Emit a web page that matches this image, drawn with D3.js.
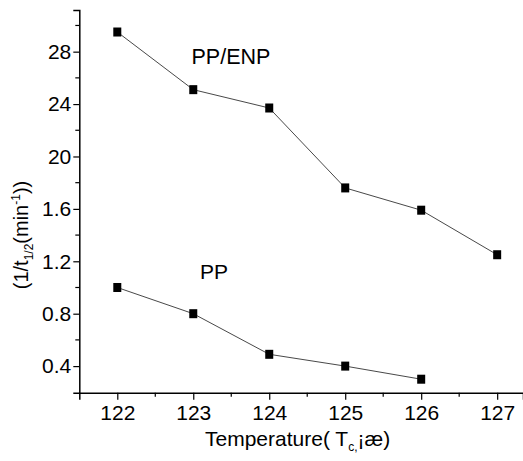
<!DOCTYPE html>
<html>
<head>
<meta charset="utf-8">
<script src="https://d3js.org/d3.v7.min.js"></script>
<style>
  body { margin: 0; background: #fff; }
  svg text { font-family: "Liberation Sans", Arial, sans-serif; fill: #000; }
</style>
</head>
<body>
<svg id="chart" width="523" height="461"></svg>
<script>
// data
const temps = [122, 123, 124, 125, 126, 127];
const ppEnp = [2.95, 2.51, 2.37, 1.76, 1.59, 1.25];
const ppTemps = [122, 123, 124, 125, 126];
const pp = [1.0, 0.8, 0.49, 0.4, 0.3];

const yTicks = [2.8, 2.4, 2.0, 1.6, 1.2, 0.8, 0.4];
const yTickLabels = ["28", "24", "20", "1.6", "1.2", "0.8", "0.4"];
const yMinor = [3.0, 2.6, 2.2, 1.8, 1.4, 1.0, 0.6];
const xMinor = [122.5, 123.5, 124.5, 125.5, 126.5];

const svg = d3.select("#chart");

// scales
const x = d3.scaleLinear().domain([121.5, 127.34]).range([79.3, 523]);
const y = d3.scaleLinear().domain([0.197, 3.118]).range([392.7, 10]);

// x axis
const xAxis = svg.append("g").attr("transform", `translate(0,${y(0.197)})`);
xAxis.call(d3.axisBottom(x).tickValues(temps).tickSize(7).tickPadding(5).tickFormat(d3.format("d")));
xAxis.selectAll(".tick").data(xMinor, d => d); // no-op, keep majors
xAxis.append("g").selectAll("line").data(xMinor).join("line")
  .attr("x1", d => x(d)).attr("x2", d => x(d))
  .attr("y1", 0).attr("y2", 4)
  .attr("stroke", "#000").attr("stroke-width", 1.2);

// y axis
const yAxis = svg.append("g").attr("transform", `translate(${x(121.5)},0)`);
yAxis.call(d3.axisLeft(y).tickValues(yTicks).tickSize(6).tickPadding(2)
  .tickFormat((d, i) => yTickLabels[i]));
yAxis.append("g").selectAll("line").data(yMinor).join("line")
  .attr("x1", 0).attr("x2", -4)
  .attr("y1", d => y(d)).attr("y2", d => y(d))
  .attr("stroke", "#000").attr("stroke-width", 1.2);

svg.selectAll(".domain").attr("stroke", "#000").attr("stroke-width", 1.5);
svg.selectAll(".tick line").attr("stroke", "#000").attr("stroke-width", 1.2);
svg.selectAll(".tick text").style("font-size", "21px").attr("fill", "#000");

// series
const line = d3.line().x(d => x(d[0])).y(d => y(d[1]));
const series = [
  d3.zip(temps, ppEnp),
  d3.zip(ppTemps, pp)
];
series.forEach(s => {
  svg.append("path").datum(s)
    .attr("d", line)
    .attr("fill", "none")
    .attr("stroke", "#333")
    .attr("stroke-width", 0.9);
  svg.append("g").selectAll("rect").data(s).join("rect")
    .attr("x", d => x(d[0]) - 4)
    .attr("y", d => y(d[1]) - 4.5)
    .attr("width", 8)
    .attr("height", 9)
    .attr("fill", "#000");
});

// series labels
svg.append("text").attr("x", 191.5).attr("y", 63.5)
  .style("font-size", "21.5px").text("PP/ENP");
svg.append("text").attr("x", 200).attr("y", 278.5)
  .style("font-size", "21px").text("PP");

// x title
const xt = svg.append("text").attr("x", 205).attr("y", 446).style("font-size", "21px");
xt.append("tspan").text("Temperature( T");
xt.append("tspan").attr("dy", 5).style("font-size", "12px").text("c,");
xt.append("tspan").attr("dy", -5).text("\u00a1\u00e6)");

// y title
const yt = svg.append("text")
  .attr("transform", "translate(28,235) rotate(-90)")
  .attr("text-anchor", "middle")
  .style("font-size", "20px");
yt.append("tspan").text("(1/t");
yt.append("tspan").attr("dy", 5).style("font-size", "12px").text("1/2");
yt.append("tspan").attr("dy", -5).text("(min");
yt.append("tspan").attr("dy", -8).style("font-size", "12px").text("-1");
yt.append("tspan").attr("dy", 8).text("))");
</script>
</body>
</html>
